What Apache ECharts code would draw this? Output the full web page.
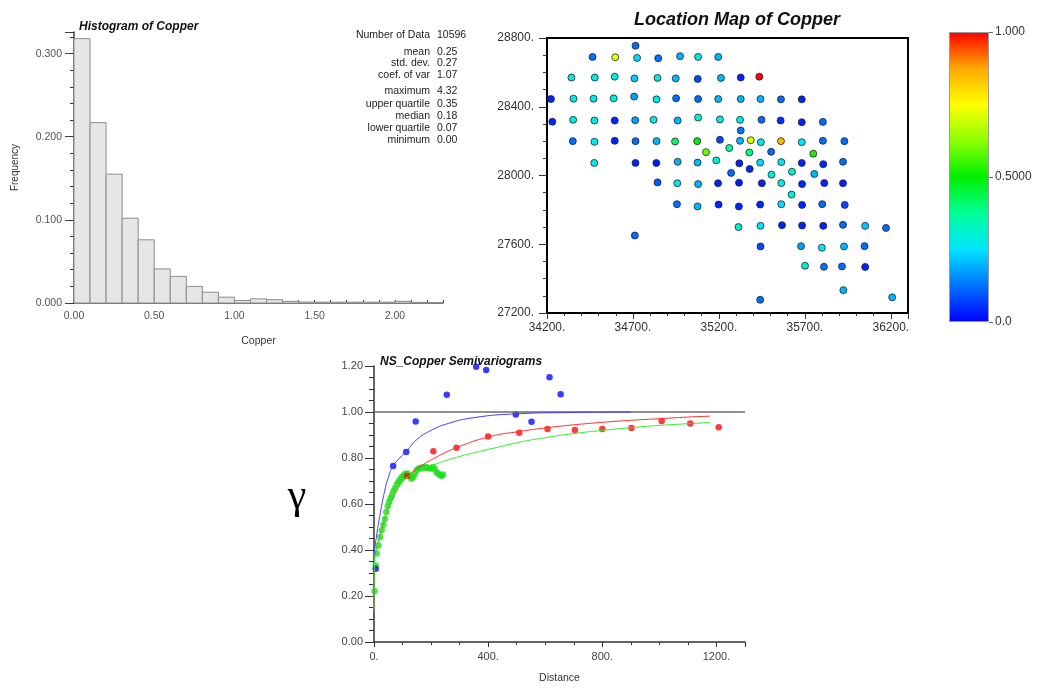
<!DOCTYPE html>
<html>
<head>
<meta charset="utf-8">
<script src="https://cdn.jsdelivr.net/npm/echarts@6/dist/echarts.min.js"></script>
<style>
  html, body { margin: 0; padding: 0; background: #fff; }
  #chart { width: 1038px; height: 688px; }
</style>
</head>
<body>
<div id="chart"></div>
<script>
// histogram of copper (bin lower edges, relative frequency)
var binLow = [0.0, 0.1, 0.2, 0.3, 0.4, 0.5, 0.6, 0.7, 0.8, 0.9, 1.0, 1.1, 1.2,
  1.3, 1.4, 1.5, 1.6, 1.7, 1.8, 1.9, 2.0, 2.1, 2.2]
var binWidth = 0.1
var histFreq = [0.318, 0.217, 0.155, 0.102, 0.076, 0.041, 0.032, 0.020, 0.013, 0.007, 0.003, 0.005,
  0.004, 0.002, 0.0012, 0.001, 0.001, 0.001, 0.001, 0.001, 0.002, 0.0008, 0.0006]

var statLabels = ['Number of Data', 'mean', 'std. dev.', 'coef. of var', 'maximum',
  'upper quartile', 'median', 'lower quartile', 'minimum']
var statValues = ['10596', '0.25', '0.27', '1.07', '4.32', '0.35', '0.18', '0.07', '0.00']
var statRowY = [35, 52, 63, 75, 91, 104, 116, 128, 140]

// location map: easting, northing, copper grade
var mapEast = [
  34715,
  34465, 34597, 34724, 34847, 34974, 35079, 35196,
  34342, 34478, 34594, 34709, 34843, 34949, 35077, 35212, 35327, 35435,
  34223, 34354, 34471, 34588, 34707, 34837, 34951, 35079, 35196, 35327, 35442, 35561, 35682,
  34231, 34352, 34476, 34594, 34713, 34820, 34960, 35079, 35206, 35323, 35448, 35559, 35682, 35805,
  35327,
  34350, 34476, 34594, 34715, 34837, 34945, 35074, 35206, 35323, 35385, 35444, 35561, 35682, 35805, 35930,
  35125, 35260, 35377, 35504, 35749,
  34475, 34715, 34836, 34960, 35076, 35185, 35319, 35440, 35563, 35682, 35807, 35922,
  35379, 35271, 35506, 35625, 35755,
  34843, 34958, 35079, 35195, 35317, 35450, 35563, 35684, 35813, 35922,
  35623,
  34956, 35076, 35198, 35316, 35440, 35563, 35684, 35801, 35932,
  35314, 35442, 35567, 35684, 35807, 35922, 36051, 36172,
  34711,
  35442, 35678, 35799, 35928, 36047,
  35701, 35811, 35916, 36051,
  35924, 35440, 36208
]
var mapNorth = [
  28755,
  28690, 28688, 28684, 28682, 28694, 28690, 28690,
  28570, 28570, 28575, 28565, 28568, 28565, 28562, 28568, 28570, 28575,
  28445, 28447, 28447, 28449, 28459, 28443, 28449, 28445, 28445, 28445, 28445, 28443, 28443,
  28313, 28324, 28320, 28320, 28322, 28324, 28320, 28337, 28326, 28324, 28324, 28320, 28310, 28312,
  28262,
  28200, 28196, 28202, 28200, 28200, 28198, 28200, 28208, 28202, 28205, 28194, 28200, 28194, 28202, 28200,
  28136, 28160, 28134, 28138, 28127,
  28073, 28073, 28073, 28080, 28075, 28088, 28071, 28075, 28078, 28073, 28066, 28080,
  28038, 28015, 28005, 28022, 28009,
  27960, 27955, 27950, 27955, 27958, 27955, 27956, 27950, 27956, 27955,
  27889,
  27833, 27820, 27831, 27820, 27831, 27833, 27829, 27833, 27829,
  27700, 27707, 27711, 27709, 27707, 27713, 27707, 27695,
  27651,
  27587, 27589, 27580, 27587, 27589,
  27475, 27469, 27471, 27468,
  27333, 27277, 27291
]
var mapCopper = [
  0.12,
  0.12, 0.72, 0.24, 0.12, 0.2, 0.28, 0.2,
  0.28, 0.28, 0.28, 0.22, 0.28, 0.2, 0.08, 0.2, 0.04, 1.0,
  0.04, 0.28, 0.28, 0.29, 0.18, 0.27, 0.12, 0.12, 0.2, 0.2, 0.2, 0.12, 0.04,
  0.04, 0.28, 0.28, 0.04, 0.18, 0.28, 0.2, 0.3, 0.28, 0.28, 0.12, 0.05, 0.04, 0.12,
  0.13,
  0.12, 0.28, 0.04, 0.12, 0.2, 0.42, 0.5, 0.08, 0.2, 0.7, 0.28, 0.85, 0.25, 0.12, 0.12,
  0.6, 0.38, 0.4, 0.12, 0.52,
  0.28, 0.04, 0.03, 0.2, 0.2, 0.3, 0.04, 0.24, 0.26, 0.04, 0.04, 0.12,
  0.04, 0.12, 0.3, 0.3, 0.2,
  0.1, 0.28, 0.2, 0.04, 0.03, 0.04, 0.28, 0.04, 0.04, 0.04,
  0.3,
  0.12, 0.2, 0.04, 0.04, 0.04, 0.24, 0.04, 0.12, 0.08,
  0.3, 0.25, 0.04, 0.04, 0.04, 0.12, 0.22, 0.12,
  0.12,
  0.08, 0.18, 0.25, 0.2, 0.12,
  0.3, 0.12, 0.12, 0.04,
  0.2, 0.12, 0.2
]
var colorRamp = ['#0000ff', '#0072ff', '#00e4ff', '#00ff9a', '#00f000', '#8cff00', '#ffff00', '#ffa800', '#ff0000']

// semivariograms: experimental points
var blueLag = [6, 67, 113, 146, 255, 358, 393, 497, 552, 615, 654]
var blueGamma = [0.319, 0.765, 0.826, 0.959, 1.075, 1.197, 1.183, 0.989, 0.958, 1.151, 1.077]
var redLag = [116, 208, 289, 400, 509, 608, 704, 800, 902, 1008, 1108, 1208, 1302]
var redGamma = [0.722, 0.829, 0.845, 0.893, 0.910, 0.926, 0.922, 0.926, 0.930, 0.961, 0.950, 0.934, 0.860]
var greenLag = [2, 6, 10, 16, 22, 27, 33, 38, 43, 48, 53, 58, 63, 68, 74, 80, 86, 92, 98, 104,
  110, 118, 126, 131, 137, 143, 149, 155, 160, 166, 172, 178, 184, 190, 196, 201, 207, 213,
  219, 225, 231, 237, 242]
var greenGamma = [0.222, 0.333, 0.385, 0.42, 0.457, 0.486, 0.51, 0.535, 0.565, 0.59, 0.609, 0.625,
  0.638, 0.655, 0.668, 0.685, 0.698, 0.708, 0.717, 0.724, 0.732, 0.733, 0.722, 0.71, 0.716,
  0.73, 0.747, 0.752, 0.757, 0.756, 0.76, 0.758, 0.761, 0.755, 0.757, 0.754, 0.761, 0.752,
  0.738, 0.733, 0.726, 0.722, 0.728]
// model curves
var blueModelLag = [0, 2, 10, 20, 37, 50, 67, 90, 114, 150, 200, 260, 347, 500, 700, 900]
var blueModelGamma = [0.14, 0.38, 0.47, 0.545, 0.655, 0.715, 0.765, 0.8, 0.83, 0.88, 0.92, 0.95, 0.975, 0.992, 0.998, 1.0]
var redModelLag = [0, 2, 10, 20, 43, 67, 90, 114, 160, 219, 289, 406, 509, 608, 698, 800, 903, 1002, 1100, 1178]
var redModelGamma = [0.14, 0.36, 0.41, 0.457, 0.558, 0.63, 0.68, 0.715, 0.761, 0.804, 0.845,
  0.893, 0.915, 0.932, 0.944, 0.955, 0.964, 0.971, 0.978, 0.982]
var greenModelLag = [0, 2, 10, 20, 43, 67, 90, 114, 160, 219, 301, 400, 523, 605, 698, 800, 903, 1002, 1100, 1178]
var greenModelGamma = [0.14, 0.36, 0.41, 0.46, 0.56, 0.632, 0.68, 0.712, 0.748, 0.775, 0.807,
  0.837, 0.872, 0.889, 0.906, 0.92, 0.932, 0.942, 0.949, 0.954]
var sillLag = [0, 1300]
var sillGamma = [1.0, 1.0]

var FONT = '"Liberation Sans", Arial, sans-serif'
var zip = function (a, b) { return a.map(function (v, i) { return [v, b[i]] }) }

var chart = echarts.init(document.getElementById('chart'))

// stats block next to the histogram
var statText = []
statLabels.forEach(function (s, i) {
  statText.push({ type: 'text', x: 430, y: statRowY[i],
    style: { text: s, align: 'right', verticalAlign: 'middle', textAlign: 'right', textVerticalAlign: 'middle',
      font: '10.5px ' + FONT, fill: '#222' } })
  statText.push({ type: 'text', x: 437, y: statRowY[i],
    style: { text: statValues[i], align: 'left', verticalAlign: 'middle', textAlign: 'left', textVerticalAlign: 'middle',
      font: '10.5px ' + FONT, fill: '#222' } })
})
statText.push({ type: 'text', x: 297, y: 497,
  style: { text: 'γ', align: 'center', verticalAlign: 'middle', textAlign: 'center', textVerticalAlign: 'middle',
    font: '42px "Liberation Serif", serif', fill: '#000' } })

var minorAxis = function (grid, min, max, step, len, vertical) {
  return {
    type: 'value', gridIndex: grid, min: min, max: max, interval: step,
    position: vertical ? 'left' : 'bottom',
    axisLine: { show: false }, axisLabel: { show: false }, splitLine: { show: false },
    axisTick: { show: true, length: len, lineStyle: { color: '#333', width: 1 } }
  }
}

chart.setOption({
  backgroundColor: '#fff',
  animation: false,
  textStyle: { fontFamily: FONT },
  title: [
    { text: 'Histogram of Copper', left: 74, top: 16,
      textStyle: { fontSize: 12, fontStyle: 'italic', fontWeight: 'bold', color: '#111' } },
    { text: 'Location Map of Copper', left: 629, top: 6,
      textStyle: { fontSize: 18, fontStyle: 'italic', fontWeight: 'bold', color: '#111' } },
    { text: 'NS_Copper Semivariograms', left: 375, top: 351,
      textStyle: { fontSize: 12, fontStyle: 'italic', fontWeight: 'bold', color: '#111' } }
  ],
  graphic: statText,
  visualMap: {
    type: 'continuous', show: false, min: 0, max: 1, dimension: 2, seriesIndex: 1,
    inRange: { color: colorRamp }
  },
  grid: [
    { left: 74, top: 32, width: 369, height: 271 },
    { left: 547, top: 38, width: 361, height: 275, show: true, borderColor: '#000', borderWidth: 2 },
    { left: 949, top: 32, width: 40, height: 290 },
    { left: 374, top: 366, width: 371, height: 276 }
  ],
  xAxis: [
    { // 0 histogram
      type: 'value', gridIndex: 0, min: 0, max: 2.3, interval: 0.1,
      name: 'Copper', nameLocation: 'middle', nameGap: 33,
      nameTextStyle: { fontSize: 10.5, color: '#333' },
      axisLine: { lineStyle: { color: '#444', width: 1.5 } },
      axisTick: { length: 3, inside: true, lineStyle: { color: '#444' } },
      splitLine: { show: false },
      axisLabel: { fontSize: 10.5, color: '#555', margin: 8,
        formatter: function (v) { return Math.round(v * 10) % 5 === 0 ? v.toFixed(2) : '' } }
    },
    { // 1 map
      type: 'value', gridIndex: 1, min: 34200, max: 36300, interval: 500,
      axisLine: { show: false },
      axisTick: { length: 6, lineStyle: { color: '#333' } },
      splitLine: { show: false },
      axisLabel: { fontSize: 12, color: '#333', margin: 9,
        formatter: function (v) { return v % 500 === 200 ? v + '.' : '' } }
    },
    minorAxis(1, 34200, 36300, 100, 3, false),
    { // 3 colorbar
      type: 'category', gridIndex: 2, data: [''], show: false
    },
    { // 4 semivariogram
      type: 'value', gridIndex: 3, min: 0, max: 1300, interval: 400,
      name: 'Distance', nameLocation: 'middle', nameGap: 31,
      nameTextStyle: { fontSize: 10.5, color: '#333' },
      axisLine: { onZero: false, lineStyle: { color: '#333', width: 1.5 } },
      axisTick: { length: 5, lineStyle: { color: '#333' } },
      splitLine: { show: false },
      axisLabel: { fontSize: 11, color: '#444', margin: 9,
        formatter: function (v) { return v % 400 === 0 ? v + '.' : '' } }
    },
    minorAxis(3, 0, 1300, 100, 3, false)
  ],
  yAxis: [
    { // 0 histogram
      type: 'value', gridIndex: 0, min: 0, max: 0.326, interval: 0.1,
      name: 'Frequency', nameLocation: 'middle', nameGap: 54,
      nameTextStyle: { fontSize: 10, color: '#333' },
      axisLine: { show: true, lineStyle: { color: '#444', width: 1.5 } },
      axisTick: { show: true, length: 9, lineStyle: { color: '#444' } },
      splitLine: { show: false },
      axisLabel: { fontSize: 10.5, color: '#555', margin: 12,
        formatter: function (v) { return Math.abs(v * 10 - Math.round(v * 10)) < 1e-6 ? v.toFixed(3) : '' } }
    },
    minorAxis(0, 0, 0.326, 0.02, 4, true),
    { // 2 map
      type: 'value', gridIndex: 1, min: 27200, max: 28800, interval: 400,
      axisLine: { show: false },
      axisTick: { show: true, length: 8, lineStyle: { color: '#333' } },
      minorTick: { show: true, splitNumber: 4, length: 4, lineStyle: { color: '#333' } },
      splitLine: { show: false },
      axisLabel: { fontSize: 12, color: '#333', margin: 13,
        formatter: function (v) { return v + '.' } }
    },
    { // 3 colorbar
      type: 'value', gridIndex: 2, min: 0, max: 1, interval: 0.5, position: 'right',
      axisLine: { show: false },
      axisTick: { show: true, length: 4, lineStyle: { color: '#666' } },
      splitLine: { show: false },
      axisLabel: { fontSize: 12, color: '#333', margin: 6,
        formatter: function (v) { return v === 0 ? '0.0' : (v === 1 ? '1.000' : '0.5000') } }
    },
    { // 4 semivariogram
      type: 'value', gridIndex: 3, min: 0, max: 1.2, interval: 0.2,
      axisLine: { show: true, onZero: false, lineStyle: { color: '#333', width: 1.5 } },
      axisTick: { show: true, length: 9, lineStyle: { color: '#333' } },
      minorTick: { show: true, splitNumber: 4, length: 5, lineStyle: { color: '#333' } },
      splitLine: { show: false },
      axisLabel: { fontSize: 11, color: '#444', margin: 11,
        formatter: function (v) { return v.toFixed(2) } }
    }
  ],
  series: [
    {
      type: 'custom', xAxisIndex: 0, yAxisIndex: 0,
      data: binLow.map(function (b, i) { return [b, b + binWidth, histFreq[i]] }),
      renderItem: function (params, api) {
        var p0 = api.coord([api.value(0), api.value(2)])
        var p1 = api.coord([api.value(1), 0])
        return { type: 'rect',
          shape: { x: p0[0], y: p0[1], width: p1[0] - p0[0], height: p1[1] - p0[1] },
          style: { fill: '#e6e6e6', stroke: '#8c8c8c', lineWidth: 1 } }
      }
    },
    {
      type: 'scatter', xAxisIndex: 1, yAxisIndex: 2,
      data: mapEast.map(function (e, i) { return [e, mapNorth[i], mapCopper[i]] }),
      symbolSize: 7,
      itemStyle: { borderColor: '#222', borderWidth: 0.8, opacity: 1 }
    },
    {
      type: 'bar', xAxisIndex: 3, yAxisIndex: 3, data: [1], barWidth: '100%',
      itemStyle: {
        borderColor: '#999', borderWidth: 1,
        color: { type: 'linear', x: 0, y: 1, x2: 0, y2: 0,
          colorStops: colorRamp.map(function (c, i) { return { offset: i / (colorRamp.length - 1), color: c } }) }
      }
    },
    {
      type: 'line', xAxisIndex: 4, yAxisIndex: 4, data: zip(sillLag, sillGamma),
      showSymbol: false, lineStyle: { color: '#6a6a6a', width: 1.5 }
    },
    {
      type: 'scatter', xAxisIndex: 4, yAxisIndex: 4, data: zip(greenLag, greenGamma),
      symbolSize: 6.5, itemStyle: { color: '#1ee01e' }
    },
    {
      type: 'line', xAxisIndex: 4, yAxisIndex: 4, data: zip(blueModelLag, blueModelGamma),
      smooth: 0.5, showSymbol: false, lineStyle: { color: '#4040ff', width: 1 }
    },
    {
      type: 'line', xAxisIndex: 4, yAxisIndex: 4, data: zip(redModelLag, redModelGamma),
      smooth: 0.5, showSymbol: false, lineStyle: { color: '#ff3030', width: 1 }
    },
    {
      type: 'line', xAxisIndex: 4, yAxisIndex: 4, data: zip(greenModelLag, greenModelGamma),
      smooth: 0.5, showSymbol: false, lineStyle: { color: '#30ee30', width: 1 }
    },
    {
      type: 'scatter', xAxisIndex: 4, yAxisIndex: 4, data: zip(blueLag, blueGamma),
      symbolSize: 6.5, itemStyle: { color: '#0a0aff' }
    },
    {
      type: 'scatter', xAxisIndex: 4, yAxisIndex: 4, data: zip(redLag, redGamma),
      symbolSize: 6.5, itemStyle: { color: '#ff0a0a' }
    }
  ]
})
</script>
</body>
</html>
